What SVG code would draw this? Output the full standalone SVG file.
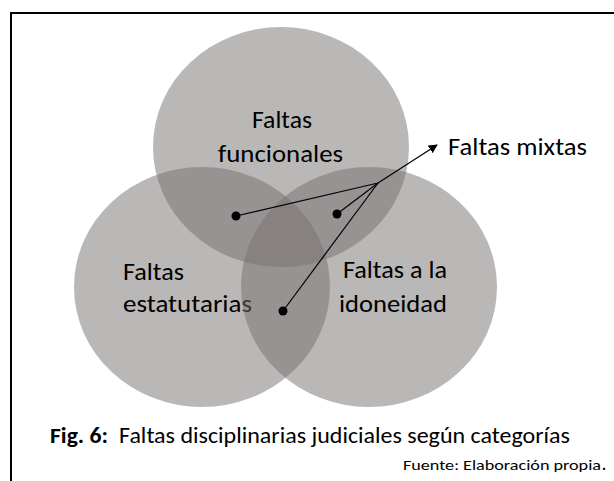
<svg xmlns="http://www.w3.org/2000/svg" width="614" height="481" viewBox="0 0 614 481">
  <style>
    .set { fill: #756f6f; fill-opacity: 0.5; }
    .lbl { font-family: Carlito, "Liberation Sans", Arial, sans-serif; font-size: 24.5px; fill: #000; }
    .cap { font-family: Carlito, "Liberation Sans", Arial, sans-serif; font-size: 22.5px; fill: #000; }
    .src { font-family: Carlito, "Liberation Sans", Arial, sans-serif; font-size: 15px; fill: #000; }
    .conn { stroke: #000; stroke-width: 1.2; fill: none; }
    .dot { fill: #000; }
  </style>
  <defs>
    <marker id="arrow" viewBox="0 0 10 10" refX="9" refY="5" markerWidth="9" markerHeight="9" markerUnits="userSpaceOnUse" orient="auto">
      <path d="M0,0 L10,5 L0,10 Z" fill="#000"/>
    </marker>
  </defs>
  <rect width="614" height="481" fill="#fff"/>
  <g id="frame">
    <line x1="11" y1="13" x2="614" y2="13" stroke="#000" stroke-width="2"/>
    <line x1="11" y1="12" x2="11" y2="481" stroke="#000" stroke-width="2"/>
  </g>
  <g id="funcionales">
    <ellipse class="set" cx="281" cy="147" rx="128" ry="120"/>
    <text class="lbl" x="252" y="128" textLength="60" lengthAdjust="spacingAndGlyphs">Faltas</text>
    <text class="lbl" x="218" y="162" textLength="125" lengthAdjust="spacingAndGlyphs">funcionales</text>
  </g>
  <g id="estatutarias">
    <ellipse class="set" cx="202" cy="287" rx="128" ry="120"/>
    <text class="lbl" x="123" y="280" textLength="61" lengthAdjust="spacingAndGlyphs">Faltas</text>
    <text class="lbl" x="123" y="312" textLength="129" lengthAdjust="spacingAndGlyphs">estatutarias</text>
  </g>
  <g id="idoneidad">
    <ellipse class="set" cx="369" cy="287" rx="128" ry="120"/>
    <text class="lbl" x="343" y="278" textLength="104" lengthAdjust="spacingAndGlyphs">Faltas a la</text>
    <text class="lbl" x="339" y="312" textLength="108" lengthAdjust="spacingAndGlyphs">idoneidad</text>
  </g>
  <g id="mixtas">
    <text class="lbl" x="448" y="155" textLength="139" lengthAdjust="spacingAndGlyphs">Faltas mixtas</text>
  </g>
  <g id="connectors">
    <line class="conn" x1="236" y1="216" x2="378" y2="183"/>
    <line class="conn" x1="337" y1="214" x2="378" y2="183"/>
    <line class="conn" x1="283" y1="311" x2="378" y2="183"/>
    <line class="conn" x1="378" y1="183" x2="437" y2="145" marker-end="url(#arrow)"/>
    <circle class="dot" cx="236" cy="216" r="4.5"/>
    <circle class="dot" cx="337" cy="214" r="4.5"/>
    <circle class="dot" cx="283" cy="311" r="4.5"/>
  </g>
  <g id="caption">
    <text class="cap" x="50" y="443" font-weight="bold" textLength="58" lengthAdjust="spacingAndGlyphs">Fig. 6:</text>
    <text class="cap" x="119" y="443" textLength="451" lengthAdjust="spacingAndGlyphs">Faltas disciplinarias judiciales según categorías</text>
    <text class="src" x="403" y="470" textLength="198" lengthAdjust="spacingAndGlyphs">Fuente: Elaboración propia</text>
    <text class="src" x="602" y="470" font-weight="bold">.</text>
  </g>
</svg>
